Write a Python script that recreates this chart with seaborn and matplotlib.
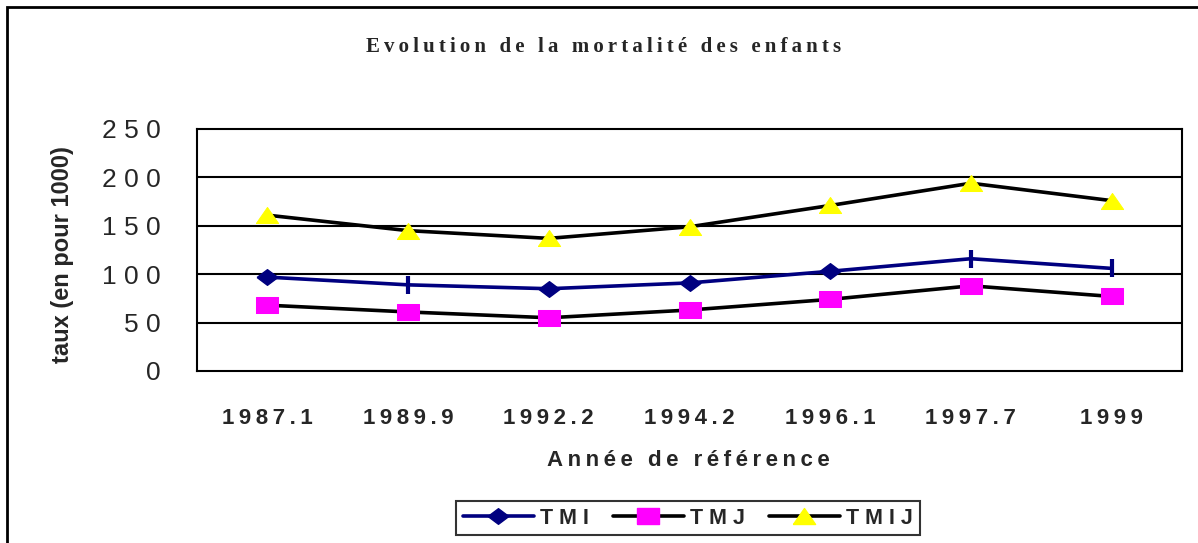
import numpy as np
import pandas as pd
import matplotlib
matplotlib.use("Agg")
import matplotlib.pyplot as plt
import seaborn as sns
from matplotlib.lines import Line2D
from matplotlib.patches import Rectangle

# data
annees = ["1987.1", "1989.9", "1992.2", "1994.2", "1996.1", "1997.7", "1999"]
tmi = [97, 89, 85, 91, 103, 116, 106]
tmj = [68, 61, 55, 63, 74, 88, 77]
tmij = [161, 145, 137, 149, 171, 194, 176]
y_ticks = [0, 50, 100, 150, 200, 250]

# TMI points drawn with a diamond, the others with a short bar
tmi_diamond = [True, False, True, True, True, False, False]

THIN = "\u2009"


def spaced(s, sep=THIN):
    return sep.join(list(s))


df = pd.DataFrame({
    "pos": list(range(len(annees))) * 3,
    "valeur": tmi + tmj + tmij,
    "serie": ["TMI"] * 7 + ["TMJ"] * 7 + ["TMIJ"] * 7,
})

sns.set_theme(style="white")
plt.rcParams["font.family"] = ["Liberation Sans", "DejaVu Sans"]

diamond = [(-1, 0), (0, 0.75), (1, 0), (0, -0.75), (-1, 0)]
rect = [(-1, -0.72), (1, -0.72), (1, 0.72), (-1, 0.72), (-1, -0.72)]
tri = [(-1, -0.72), (1, -0.72), (0, 0.72), (-1, -0.72)]

fig = plt.figure(figsize=(11.98, 5.43), dpi=100)
ax = fig.add_axes([197 / 1198, 1 - 371 / 543, 985 / 1198, 242 / 543])

# TMI
d = df[df["serie"] == "TMI"]
sns.lineplot(data=d, x="pos", y="valeur", color="#000080", lw=2.6, ax=ax, legend=False)
pos = np.arange(len(annees))
mask = np.array(tmi_diamond)
ax.plot(pos[mask], np.array(tmi)[mask], ls="none", marker=diamond, ms=15,
        color="#000080", mec="#000080", zorder=5)
ax.plot(pos[~mask], np.array(tmi)[~mask], ls="none", marker="|", ms=13, mew=3,
        color="#000080", zorder=5)

# TMJ
d = df[df["serie"] == "TMJ"]
sns.lineplot(data=d, x="pos", y="valeur", color="black", lw=2.6, ax=ax, legend=False,
             marker=rect, markersize=16, markerfacecolor="#FF00FF", markeredgecolor="#FF00FF")

# TMIJ
d = df[df["serie"] == "TMIJ"]
sns.lineplot(data=d, x="pos", y="valeur", color="black", lw=2.6, ax=ax, legend=False,
             marker=tri, markersize=16, markerfacecolor="#FFFF00", markeredgecolor="#FFFF00")

ax.set_xlim(-0.5, len(annees) - 0.5)
ax.set_ylim(0, 250)
ax.set_yticks(y_ticks)
ax.set_yticklabels([" ".join(str(v)) for v in y_ticks], fontsize=19)
ax.set_xticks(pos)
ax.set_xticklabels([spaced(a) for a in annees], fontsize=16, fontweight="bold")
ax.set_xticks(np.arange(-0.5, len(annees)), minor=True)
ax.tick_params(axis="x", which="major", length=0, pad=27)
ax.tick_params(axis="x", which="minor", length=8, width=1.5, direction="out", color="black")
ax.tick_params(axis="y", length=7, width=1.5, direction="out", color="black", pad=19)
ax.set_xlabel("")
ax.set_ylabel("")

for v in y_ticks[1:-1]:
    ax.axhline(v, color="black", lw=1.5, zorder=1)
for sp in ax.spines.values():
    sp.set_color("black")
    sp.set_linewidth(1.5)

fig.text(604 / 1198, 1 - 47 / 543, spaced("Evolution de la mortalité des enfants"),
         ha="center", va="center", fontsize=15, fontweight="bold",
         family=["Liberation Serif", "DejaVu Serif"])
fig.text(688 / 1198, 1 - 461 / 543, spaced("Année de référence"),
         ha="center", va="center", fontsize=16, fontweight="bold")
fig.text(62 / 1198, 1 - 255 / 543, "taux (en pour 1000)", rotation=90,
         ha="center", va="center", fontsize=17, fontweight="bold")

handles = [
    Line2D([], [], color="#000080", lw=2.6, marker=diamond, ms=15, mec="#000080"),
    Line2D([], [], color="black", lw=2.6, marker=rect, ms=16, mfc="#FF00FF", mec="#FF00FF"),
    Line2D([], [], color="black", lw=2.6, marker=tri, ms=16, mfc="#FFFF00", mec="#FFFF00"),
]
leg = fig.legend(handles, ["T M I", "T M J", "T M I J"], loc="center",
                 bbox_to_anchor=(688 / 1198, 1 - 518 / 543), ncol=3, numpoints=1,
                 prop={"size": 15.5, "weight": "bold"}, handlelength=3.3, handletextpad=0.3,
                 columnspacing=1.1, borderpad=0.3, fancybox=False, frameon=True)
leg.get_frame().set_edgecolor("black")
leg.get_frame().set_linewidth(1.5)

fig.add_artist(Rectangle((7 / 1198, -0.1), 1.2, 1.1 - 7 / 543, transform=fig.transFigure,
                         fill=False, edgecolor="black", lw=2))

fig.savefig("out.png", dpi=100)
